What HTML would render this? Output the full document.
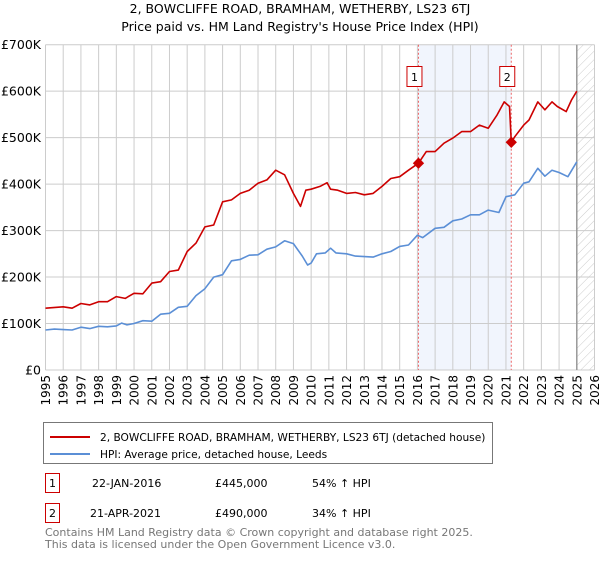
<!DOCTYPE html>
<html><head><meta charset="utf-8"><style>
body{margin:0;background:#fff;font-family:"Liberation Sans","DejaVu Sans",sans-serif;}
svg text{font-family:"DejaVu Sans","Liberation Sans",sans-serif;}
</style></head><body>
<svg width="600" height="560" viewBox="0 0 600 560" xmlns="http://www.w3.org/2000/svg">
<defs><pattern id="hatch" width="6" height="6" patternUnits="userSpaceOnUse" patternTransform="rotate(45)"><line x1="0" y1="0" x2="0" y2="6" stroke="#ccc" stroke-width="1"/></pattern></defs>
<text x="300" y="13" text-anchor="middle" font-size="12.5">2, BOWCLIFFE ROAD, BRAMHAM, WETHERBY, LS23 6TJ</text>
<text x="300" y="31" text-anchor="middle" font-size="12.5">Price paid vs. HM Land Registry's House Price Index (HPI)</text>
<g id="plot"></g>
<g>
<rect x="43.5" y="422.5" width="449" height="41" fill="#fff" stroke="#777"/>
<line x1="50" y1="437" x2="90" y2="437" stroke="#cc0000" stroke-width="2"/>
<text x="100" y="441" font-size="10.6">2, BOWCLIFFE ROAD, BRAMHAM, WETHERBY, LS23 6TJ (detached house)</text>
<line x1="50" y1="454" x2="90" y2="454" stroke="#5b8fd6" stroke-width="2"/>
<text x="100" y="458" font-size="10.6">HPI: Average price, detached house, Leeds</text>
</g>
<g font-size="11">
<rect x="45.5" y="473.5" width="14" height="19" fill="#fff" stroke="#cc0000"/><text x="52.5" y="487" text-anchor="middle">1</text>
<text x="92" y="487">22-JAN-2016</text><text x="215" y="487">£445,000</text><text x="312" y="487">54% ↑ HPI</text>
<rect x="45.5" y="503.5" width="14" height="19" fill="#fff" stroke="#cc0000"/><text x="52.5" y="517" text-anchor="middle">2</text>
<text x="90" y="517">21-APR-2021</text><text x="215" y="517">£490,000</text><text x="312" y="517">34% ↑ HPI</text>
</g>
<text x="45" y="536" font-size="11" fill="#777">Contains HM Land Registry data © Crown copyright and database right 2025.</text>
<text x="45" y="548" font-size="11" fill="#777">This data is licensed under the Open Government Licence v3.0.</text>
</svg>
<script>
const hpiYears=[1995,1995.5,1996,1996.5,1997,1997.5,1998,1998.5,1999,1999.3,1999.6,2000,2000.5,2001,2001.5,2002,2002.5,2003,2003.5,2004,2004.5,2005,2005.5,2006,2006.5,2007,2007.5,2008,2008.5,2009,2009.5,2009.8,2010,2010.3,2010.8,2011.1,2011.4,2012,2012.5,2013,2013.5,2014,2014.5,2015,2015.5,2016,2016.3,2017,2017.5,2018,2018.5,2019,2019.5,2020,2020.6,2021,2021.5,2022,2022.3,2022.8,2023.2,2023.6,2024,2024.5,2025];
const hpiValues=[86,88,87,86,92,89,94,93,95,101,97,100,106,105,120,122,135,137,160,175,200,205,235,238,247,248,260,265,278,272,245,226,230,250,252,262,252,250,245,244,243,250,255,266,269,290,285,305,307,321,325,334,334,344,339,373,377,402,405,434,417,430,425,416,448];
const priceYears=[1995,1996,1996.5,1997,1997.5,1998,1998.5,1999,1999.5,2000,2000.5,2001,2001.5,2002,2002.5,2003,2003.5,2004,2004.5,2005,2005.5,2006,2006.5,2007,2007.5,2008,2008.5,2009,2009.4,2009.7,2010,2010.5,2010.9,2011.1,2011.5,2012,2012.5,2013,2013.5,2014,2014.5,2015,2015.5,2016.06,2016.5,2017,2017.5,2018,2018.5,2019,2019.5,2020,2020.5,2020.9,2021.2,2021.3,2021.5,2022,2022.3,2022.8,2023.2,2023.6,2023.9,2024.4,2024.7,2025];
const priceValues=[133,136,133,143,140,147,147,158,154,165,164,187,190,212,215,255,273,308,312,362,366,380,387,402,409,430,420,380,352,387,389,395,403,389,387,380,382,377,380,395,412,416,430,445,470,470,488,499,513,513,527,520,549,577,567,490,502,527,538,577,560,577,567,556,581,600];
const saleYears=[2016.06,2021.3];
const saleValues=[445,490];
const saleLabels=["1","2"];
const yTicks=[0,100,200,300,400,500,600,700];
const yTickLabels=["£0","£100K","£200K","£300K","£400K","£500K","£600K","£700K"];
const xTicks=[1995,1996,1997,1998,1999,2000,2001,2002,2003,2004,2005,2006,2007,2008,2009,2010,2011,2012,2013,2014,2015,2016,2017,2018,2019,2020,2021,2022,2023,2024,2025,2026];
const X0=45.5,X1=594.5,Y0=370,Y1=44.7,dataEnd=2025.0;
const xs=y=>X0+(y-1995)/(2026-1995)*(X1-X0);
const ys=v=>Y0-v/700*(Y0-Y1);
const NS="http://www.w3.org/2000/svg";
const g=document.getElementById('plot');
function mk(t,a,p){const e=document.createElementNS(NS,t);for(const k in a)e.setAttribute(k,a[k]);(p||g).appendChild(e);return e;}
let sh=mk('rect',{x:xs(saleYears[0]),y:Y1,width:xs(saleYears[1])-xs(saleYears[0]),height:Y0-Y1,fill:'#eef3fc',opacity:0.8});


let ht=mk('rect',{x:xs(dataEnd),y:Y1,width:X1-xs(dataEnd),height:Y0-Y1,fill:'url(#hatch)'});


xTicks.forEach(t=>{
 const l=mk('line',{x1:xs(t),x2:xs(t),y1:Y1,y2:Y0,stroke:'#ccc'});
 
 
 const tx=mk('text',{x:0,y:0,'font-size':12,'text-anchor':'end',transform:`translate(${xs(t)+4.5},${Y0+5}) rotate(-90)`});
 tx.textContent=t;
 
 
});
yTicks.forEach((t,i)=>{
 const l=mk('line',{x1:X0,x2:X1,y1:ys(t),y2:ys(t),stroke:'#ccc'});
 
 
 const tx=mk('text',{x:41,y:ys(t)+4.5,'font-size':12.5,'text-anchor':'end'});
 tx.textContent=yTickLabels[i];
 
 
});
let el=mk('line',{x1:xs(dataEnd),x2:xs(dataEnd),y1:Y1,y2:Y0,stroke:'#999','stroke-width':1.5});


saleYears.forEach((s,i)=>{
 const l=mk('line',{x1:xs(s),x2:xs(s),y1:Y1,y2:Y0,stroke:'#e66','stroke-dasharray':'2,2'});
 
 
 const r=mk('rect',{x:xs(s)-11.5,y:66.5,width:15,height:20,fill:'#fff',stroke:'#cc0000'});
 
 
 const t=mk('text',{x:xs(s)-4,y:81,'font-size':11,'text-anchor':'middle'});
 t.textContent=saleLabels[i];
 
 
});
function line(xa,va,col,name){
 const d=xa.map((x,i)=>(i?'L':'M')+xs(x).toFixed(1)+','+ys(va[i]).toFixed(1)).join('');
 const p=mk('path',{d,fill:'none',stroke:col,'stroke-width':1.6,'stroke-linejoin':'round'});
 
 
}
line(hpiYears,hpiValues,'#5b8fd6','hpi-line');
line(priceYears,priceValues,'#cc0000','price-line');
saleYears.forEach((s,i)=>{
 const c=mk('rect',{x:xs(s)-4,y:ys(saleValues[i])-4,width:8,height:8,fill:'#cc0000',transform:`rotate(45 ${xs(s)} ${ys(saleValues[i])})`});
 
 
});
</script>
</body></html>
